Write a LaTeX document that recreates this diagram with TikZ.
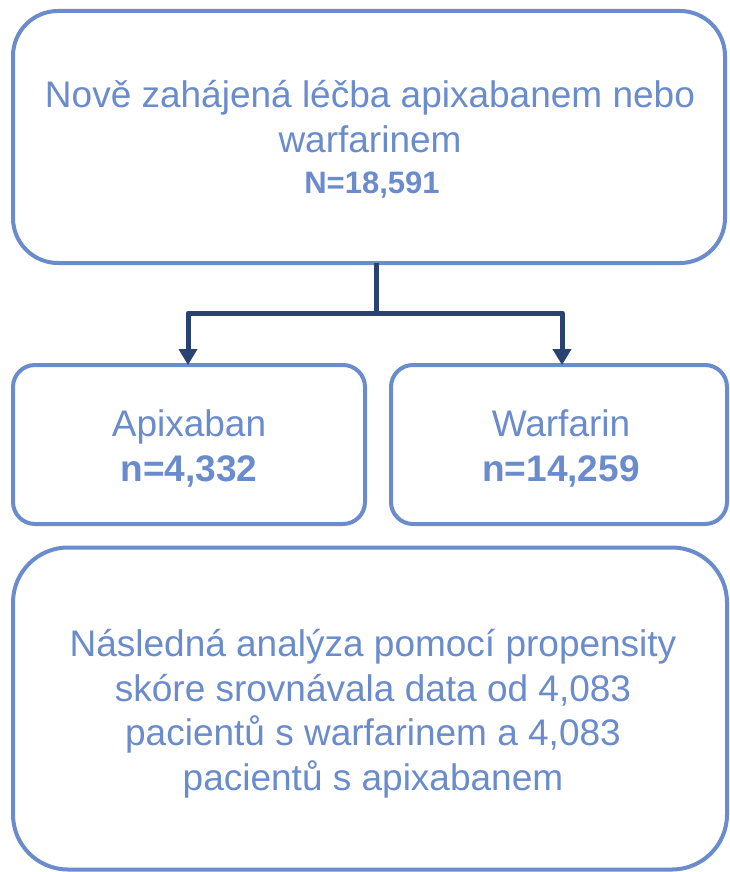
\documentclass[tikz,border=0pt]{standalone}
\usepackage{fontspec}
\setmainfont{Liberation Sans}
\usetikzlibrary{arrows.meta,calc}
\definecolor{boxc}{HTML}{6A8BCC}
\definecolor{navy}{HTML}{284372}
\tikzset{
  box/.style={draw=boxc, line width=4pt, fill=white, inner sep=0pt, outer sep=0pt},
  txt/.style={text=boxc, anchor=base, inner sep=0pt, font=\fontsize{37}{44}\selectfont},
  btxt/.style={text=boxc, anchor=base, inner sep=0pt, font=\fontsize{37}{44}\selectfont\bfseries},
  ntxt/.style={text=boxc, anchor=base, inner sep=0pt, font=\fontsize{31}{37}\selectfont\bfseries},
  conn/.style={draw=navy, line width=5pt, line join=round},
  arr/.style={conn, -{Triangle[width=18pt,length=16pt]}}
}
\begin{document}
\begin{tikzpicture}[x=1pt,y=-1pt]
\useasboundingbox (0,0) rectangle (730,872);
% boxes
\node[box, minimum width=712pt, minimum height=252pt, rounded corners=45pt] (top) at (369,137) {};
\node[box, minimum width=352pt, minimum height=159pt, rounded corners=22pt] (apix) at (189,444.5) {};
\node[box, minimum width=336pt, minimum height=159pt, rounded corners=22pt] (warf) at (559,444.5) {};
\node[box, minimum width=714pt, minimum height=322pt, rounded corners=55pt] (anal) at (370,708.5) {};
% texts
\node[txt] (t1) at (370,108) {Nově zahájená léčba apixabanem nebo};
\node[txt] (t2) at (370,153) {warfarinem};
\node[ntxt] (t3) at (372,193) {N=18,591};
\node[txt] (a1) at (189,436) {Apixaban};
\node[btxt] (a2) at (189,481) {n=4,332};
\node[txt] (w1) at (561,436) {Warfarin};
\node[btxt] (w2) at (561,481) {n=14,259};
\node[txt] (b1) at (373,656) {Následná analýza pomocí propensity};
\node[txt] (b2) at (373,701) {skóre srovnávala data od 4,083};
\node[txt] (b3) at (373,745) {pacientů s warfarinem a 4,083};
\node[txt] (b4) at (373,790) {pacientů s apixabanem};
% connectors
\coordinate (split) at (376,313);
\coordinate (la) at (188,313);
\coordinate (ra) at (562,313);
\draw[conn] (top.south -| split) -- (split);
\draw[arr] (split) -- (la) -- (la |- apix.north);
\draw[arr] (split) -- (ra) -- (ra |- warf.north);
\end{tikzpicture}
\end{document}
